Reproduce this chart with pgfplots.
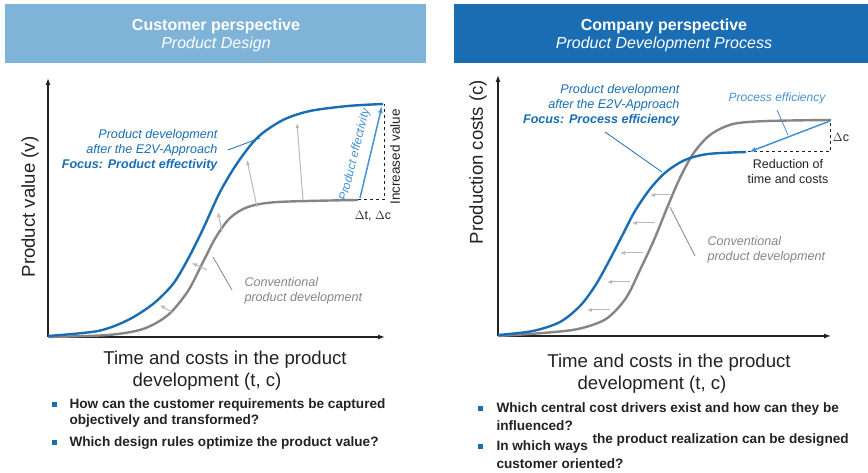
\documentclass[border=0pt]{standalone}
\usepackage{fontspec}
\setmainfont{Liberation Sans}
\usepackage{pgfplots}
\pgfplotsset{compat=1.18}
\usetikzlibrary{arrows.meta}

\definecolor{e2vblue}{HTML}{1A6DB3}
\definecolor{headlight}{HTML}{80B3D8}
\definecolor{arrowblue}{HTML}{4592D2}
\definecolor{convgray}{HTML}{858585}
\definecolor{hintgray}{HTML}{B8B8B8}
\definecolor{txt}{HTML}{222222}

\pgfplotsset{
  e2v/.style={
    x=1pt, y=1pt, anchor=origin,
    axis lines=left, enlargelimits=false,
    axis line style={line width=1.3pt, txt, -{Latex[length=7pt,width=5pt]}},
    xtick=\empty, ytick=\empty, clip=false,
    xmin=0, ymin=0,
  },
  valcurve/.style={smooth, tension=0.5, no marks, line width=2.4pt, e2vblue},
  convcurve/.style={smooth, tension=0.5, no marks, line width=2.4pt, convgray},
}
\tikzset{
  hint/.style={hintgray, line width=1pt, -{Latex[length=5pt,width=4pt]}},
  note/.style={font=\fontsize{12.6}{15}\selectfont\itshape},
  axlab/.style={font=\fontsize{18.6}{22}\selectfont, txt},
  bullet/.style={font=\fontsize{13.6}{16}\selectfont\bfseries, txt, anchor=west},
  title/.style={white, font=\fontsize{16}{18}\selectfont\bfseries},
  subtitle/.style={white, font=\fontsize{16}{18}\selectfont\itshape},
}

\begin{document}
\begin{tikzpicture}[x=1pt,y=1pt]
\useasboundingbox (0,0) rectangle (868,473);

% headers
\fill[headlight] (5,410) rectangle (426,469);
\node[title] at (216,447) {Customer perspective};
\node[subtitle] at (216,429) {Product Design};
\fill[e2vblue] (454,410) rectangle (868,469);
\node[title] at (664,447) {Company perspective};
\node[subtitle] at (664,429) {Product Development Process};

% left: product value
\begin{axis}[e2v, at={(48,136)}, xmax=337, ymax=259]
\addplot[convcurve] coordinates {
 (0,0) (60,2) (95,8) (120,22) (140,46) (155,75) (168,100) (182,119)
 (200,130) (230,135) (310,137)
};
\addplot[valcurve] coordinates {
 (0,1) (50,6) (80,17) (105,33) (125,53) (140,78) (155,108) (172,145)
 (190,175) (210,200) (235,217) (262,226) (300,231) (335,233)
};
\draw[hint] (125,24) -- (112,32);
\draw[hint] (159,67) -- (144,74);
\draw[hint] (174,105) -- (170,125);
\draw[hint] (209,130) -- (199,177);
\draw[hint] (255,137) -- (249,214);
\draw[dashed, line width=1pt, txt] (310,137) -- (336,137) -- (336,233);
\draw[arrowblue, line width=1.5pt, -{Latex[length=7pt,width=5pt]}] (312,139) -- (334,231);
\node[arrowblue, font=\fontsize{12}{14}\selectfont\itshape, rotate=76] at (307,182) {Product effectivity};
\node[font=\fontsize{13.5}{16}\selectfont, txt, rotate=90] at (347,180) {Increased value};
\node[font=\fontsize{12.5}{14}\selectfont, txt] at (325,121) {$\Delta$t, $\Delta$c};
\node[note, e2vblue, align=right, anchor=east] at (173,187)
  {Product development\\after the E2V-Approach\\\textbf{Focus: Product effectivity}};
\draw[e2vblue, line width=0.8pt] (180,187) -- (212,199);
\node[note, convgray, align=left, anchor=west] at (193,46)
  {Conventional\\product development};
\draw[convgray, line width=0.8pt] (184,47) -- (165,80);
\end{axis}

% right: production costs
\begin{axis}[e2v, at={(498,137)}, xmax=333, ymax=261]
\addplot[convcurve] coordinates {
 (0,0) (45,3) (80,7) (108,17) (128,38) (142,66) (156,96) (169,128)
 (181,156) (195,182) (212,201) (235,212) (270,215) (333,216)
};
\addplot[valcurve] coordinates {
 (0,1) (35,5) (62,14) (82,30) (97,50) (110,73) (124,100) (137,125)
 (152,147) (168,164) (187,176) (210,182) (248,184)
};
\draw[hint] (172,141) -- (152,141);
\draw[hint] (157,113) -- (134,113);
\draw[hint] (145,83) -- (122,83);
\draw[hint] (132,54) -- (109,54);
\draw[hint] (112,26) -- (89,26);
\draw[dashed, line width=1pt, txt] (250,184) -- (332,184) -- (332,216);
\draw[arrowblue, line width=1.5pt, -{Latex[length=7pt,width=5pt]}] (332,215) -- (251,184);
\node[arrowblue, font=\fontsize{12}{14}\selectfont\itshape] at (279,238) {Process efficiency};
\draw[arrowblue, line width=0.8pt] (279,226) -- (290,201);
\node[font=\fontsize{12.5}{14}\selectfont, txt] at (343,199) {$\Delta$c};
\node[font=\fontsize{12.5}{15}\selectfont, txt, align=center] at (290,164)
  {Reduction of\\time and costs};
\node[note, e2vblue, align=right, anchor=east] at (185,231)
  {Product development\\after the E2V-Approach\\\textbf{Focus: Process efficiency}};
\draw[e2vblue, line width=0.8pt] (107,204) -- (164,164);
\node[note, convgray, align=left, anchor=west] at (206,86)
  {Conventional\\product development};
\draw[convgray, line width=0.8pt] (172,129) -- (197,80);
\end{axis}

% axis titles
\node[axlab, rotate=90] at (30,266) {Product value (v)};
\node[axlab] at (225,113) {Time and costs in the product};
\node[axlab] at (207,91) {development (t, c)};
\node[axlab, rotate=90] at (478,311) {Production costs (c)};
\node[axlab] at (669,110) {Time and costs in the product};
\node[axlab] at (652,88) {development (t, c)};

% bullets
\fill[e2vblue] (51.5,65.5) rectangle +(5,5);
\fill[e2vblue] (51.5,27.5) rectangle +(5,5);
\node[bullet] at (66,68) {How can the customer requirements be captured};
\node[bullet] at (66,52) {objectively and transformed?};
\node[bullet] at (66,30) {Which design rules optimize the product value?};
\fill[e2vblue] (477.5,61.5) rectangle +(5,5);
\fill[e2vblue] (477.5,23.5) rectangle +(5,5);
\node[bullet] at (493,64) {Which central cost drivers exist and how can they be};
\node[bullet] at (493,47) {influenced?};
\node[bullet] at (493,26) {In which ways};
\node[bullet] at (589,33) {the product realization can be designed};
\node[bullet] at (493,9) {customer oriented?};
\end{tikzpicture}
\end{document}
